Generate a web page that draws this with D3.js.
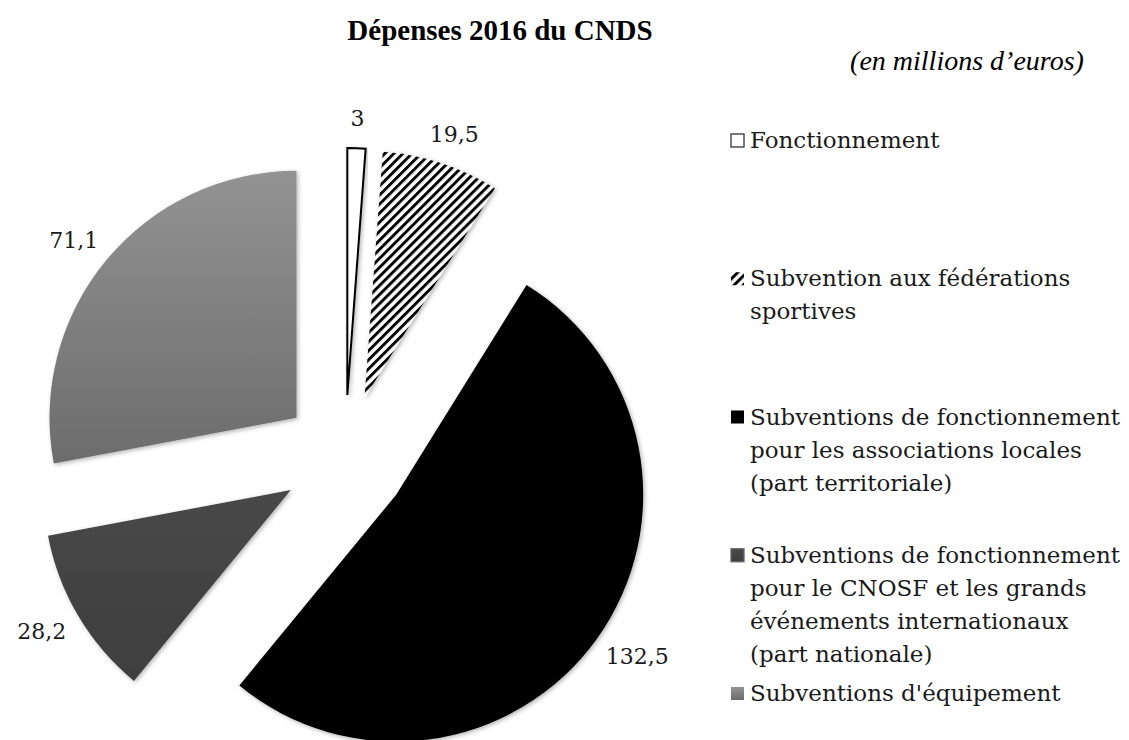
<!DOCTYPE html>
<html>
<head>
<meta charset="utf-8">
<script src="https://cdn.jsdelivr.net/npm/d3@7"></script>
<style>
  body { margin: 0; background: #fff; }
  svg { display: block; }
</style>
</head>
<body>
<div id="chart"></div>
<script>
const categories = [
  "Fonctionnement",
  "Subvention aux fédérations sportives",
  "Subventions de fonctionnement pour les associations locales (part territoriale)",
  "Subventions de fonctionnement pour le CNOSF et les grands événements internationaux (part nationale)",
  "Subventions d'équipement"
];
const values = [3, 19.5, 132.5, 28.2, 71.1];
const legendLines = [
  ["Fonctionnement"],
  ["Subvention aux fédérations", "sportives"],
  ["Subventions de fonctionnement", "pour les associations locales", "(part territoriale)"],
  ["Subventions de fonctionnement", "pour le CNOSF et les grands", "événements internationaux", "(part nationale)"],
  ["Subventions d'équipement"]
];
const title = "Dépenses 2016 du CNDS";
const subtitle = "(en millions d’euros)";

const width = 1129, height = 740;
const cx = 345, cy = 458, radius = 247, explode = 63;
const serif = "'DejaVu Serif', serif";

const fr = d3.formatLocale({decimal: ",", thousands: " ", grouping: [3], currency: ["", " €"]});
const fmt = fr.format("~f");

const svg = d3.select("#chart").append("svg")
  .attr("width", width)
  .attr("height", height);

const defs = svg.append("defs");

// hachures pour les fédérations
const hatch = defs.append("pattern")
  .attr("id", "hatch")
  .attr("patternUnits", "userSpaceOnUse")
  .attr("width", 6.4).attr("height", 6.4)
  .attr("patternTransform", "rotate(45)");
hatch.append("rect").attr("width", 6.4).attr("height", 6.4).attr("fill", "#fff");
hatch.append("rect").attr("width", 2.9).attr("height", 6.4).attr("fill", "#000");

const gradEquip = defs.append("linearGradient")
  .attr("id", "gradEquip")
  .attr("x1", 0).attr("y1", 0).attr("x2", 0).attr("y2", 1);
gradEquip.append("stop").attr("offset", "0%").attr("stop-color", "#939393");
gradEquip.append("stop").attr("offset", "100%").attr("stop-color", "#6c6c6c");

const gradNat = defs.append("linearGradient")
  .attr("id", "gradNat")
  .attr("x1", 0).attr("y1", 0).attr("x2", 0).attr("y2", 1);
gradNat.append("stop").attr("offset", "0%").attr("stop-color", "#484848");
gradNat.append("stop").attr("offset", "100%").attr("stop-color", "#3e3e3e");

const shadow = defs.append("filter")
  .attr("id", "shadow")
  .attr("x", "-10%").attr("y", "-10%").attr("width", "120%").attr("height", "120%");
shadow.append("feDropShadow")
  .attr("dx", 1.5).attr("dy", 1.5).attr("stdDeviation", 2)
  .attr("flood-color", "#000").attr("flood-opacity", 0.3);

const fills = ["#fff", "url(#hatch)", "#000", "url(#gradNat)", "url(#gradEquip)"];
const strokes = ["#000", "none", "none", "none", "none"];

// titre
svg.append("text")
  .attr("x", 500).attr("y", 40)
  .attr("text-anchor", "middle")
  .style("font-family", "'Liberation Serif', serif")
  .style("font-weight", "bold")
  .style("font-size", "29px")
  .text(title);

svg.append("text")
  .attr("x", 967).attr("y", 70)
  .attr("text-anchor", "middle")
  .style("font-family", "'Liberation Serif', serif")
  .style("font-style", "italic")
  .style("font-size", "28px")
  .text(subtitle);

// camembert
const pie = d3.pie().sort(null).value(d => d);
const arcs = pie(values);
const arc = d3.arc().innerRadius(0).outerRadius(radius);

const offset = d => {
  const a = (d.startAngle + d.endAngle) / 2;
  return [Math.sin(a) * explode, -Math.cos(a) * explode];
};

const g = svg.append("g").attr("transform", `translate(${cx},${cy})`);

const slices = g.selectAll("g.slice")
  .data(arcs)
  .join("g")
  .attr("class", "slice")
  .attr("transform", d => `translate(${offset(d)})`);

slices.append("path")
  .attr("d", arc)
  .attr("fill", (d, i) => fills[i])
  .attr("stroke", (d, i) => strokes[i])
  .attr("stroke-width", 2)
  .attr("stroke-linejoin", "miter")
  .attr("filter", "url(#shadow)");

// étiquettes "extrémité extérieure"
const gap = 18;
slices.each(function(d) {
  const a = (d.startAngle + d.endAngle) / 2;
  const dx = Math.sin(a), dy = -Math.cos(a);
  const t = d3.select(this).append("text")
    .attr("text-anchor", "middle")
    .attr("dominant-baseline", "central")
    .style("font-family", serif)
    .style("font-size", "22px")
    .attr("fill", "#1a1a1a")
    .text(fmt(d.data));
  const w = t.node().getComputedTextLength();
  const h = 24;
  t.attr("x", dx * (radius + gap) + dx * w / 2)
   .attr("y", dy * (radius + gap) + dy * h / 2);
});

// légende
const legendY = d3.scaleLinear().domain([0, categories.length - 1]).range([148, 701]);
const lineH = 33;

const legend = svg.append("g").selectAll("g")
  .data(categories)
  .join("g")
  .attr("transform", (d, i) => `translate(731,${legendY(i)})`);

legend.append("rect")
  .attr("x", 0).attr("y", -14)
  .attr("width", 13).attr("height", 13)
  .attr("fill", (d, i) => fills[i])
  .attr("stroke", (d, i) => i === 0 ? "#333" : (i === 3 ? "#666" : "none"))
  .attr("stroke-width", 1.3);

legend.append("text")
  .attr("x", 19)
  .style("font-family", serif)
  .style("font-size", "23px")
  .attr("fill", "#1a1a1a")
  .selectAll("tspan")
  .data((d, i) => legendLines[i])
  .join("tspan")
  .attr("x", 19)
  .attr("dy", (d, j) => j === 0 ? 0 : lineH)
  .text(d => d);
</script>
</body>
</html>
